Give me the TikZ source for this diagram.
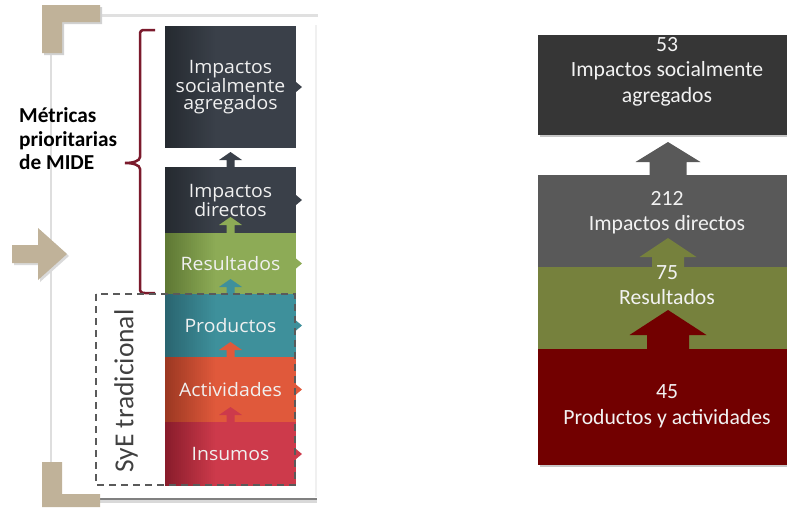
\documentclass[tikz,border=0pt]{standalone}
\usepackage{fontspec}
\setmainfont{Carlito}
\newfontfamily\boxfont[FakeStretch=1.05]{Open Sans}
\usetikzlibrary{calc}
\definecolor{tanc}{HTML}{C0B299}
\definecolor{darkbox}{HTML}{3A4049}\definecolor{darkboxL}{HTML}{252A30}
\definecolor{greenbox}{HTML}{8DAB56}\definecolor{greenboxL}{HTML}{5E7834}
\definecolor{tealbox}{HTML}{3E909B}\definecolor{tealboxL}{HTML}{2A6570}
\definecolor{orangebox}{HTML}{E0593B}\definecolor{orangeboxL}{HTML}{9C3822}
\definecolor{redbox}{HTML}{CD3A4B}\definecolor{redboxL}{HTML}{891C2B}
\definecolor{brack}{HTML}{7B1A2C}
\definecolor{dashc}{HTML}{5A5A5A}
\definecolor{rA}{HTML}{363636}\definecolor{rB}{HTML}{595959}
\definecolor{rC}{HTML}{76813D}\definecolor{rD}{HTML}{720000}
\newcommand{\blkarrow}[6]{% colour, base point, head half width, head height, shaft half width, total height
  \begin{scope}[shift={(#2)}]
    \fill[#1] (-#5,0) -- (-#5,{-(#6-#4)}) -- (-#3,{-(#6-#4)}) -- (0,-#6) -- (#3,{-(#6-#4)}) -- (#5,{-(#6-#4)}) -- (#5,0) -- cycle;
  \end{scope}}
\newcommand{\sidetri}[2]{\fill[#1] ($(#2.east)+(0,-5)$) -- ($(#2.east)+(6,0)$) -- ($(#2.east)+(0,5)$) -- cycle;}
\tikzset{
  lbox/.style={fill=#1, draw=none, inner sep=0pt, outer sep=0pt, minimum width=131pt,
    text=white!94!black, font=\boxfont\fontsize{18.5}{19}\selectfont, align=center,
    path picture={\foreach \i [evaluate=\i as \p using int(4*\i)] in {0,...,24}{%
      \fill[color={#1!\p!#1L}] ([xshift=\i*2pt]path picture bounding box.south west) rectangle ([xshift=\i*2pt+2.4pt]path picture bounding box.north west);}}},
  rbox/.style={fill=#1, draw=none, inner sep=0pt, outer sep=0pt, minimum width=249pt},
  rtext/.style={text=white!95!black, font=\fontsize{21.7}{25.5}\selectfont, align=center, inner sep=0pt},
  tanshape/.style={fill=tanc},
  brk/.style={draw=brack, line width=2.5pt},
  dashbox/.style={draw=dashc, line width=2.5pt, dash pattern=on 7pt off 5pt},
}
\begin{document}
\begin{tikzpicture}[x=1pt,y=-1pt]
\useasboundingbox (0,0) rectangle (787,507);
% frame of left panel
\draw[draw=black!12, line width=3pt] (100,15) -- (318,15);
\draw[draw=black!6, line width=1.2pt] (316,25) -- (316,497);
\draw[draw=black!13, line width=1.5pt] (51,53) -- (51,462);
\draw[draw=black!15, line width=3pt] (100,501) -- (317,501);
\draw[draw=black!50, line width=1.5pt] (100,499) -- (317,499);
% tan corners and arrow
\fill[black!18] (44,7) -- (102,7) -- (102,24) -- (64,24) -- (64,55) -- (44,55) -- cycle;
\fill[tanshape] (42,5) -- (100,5) -- (100,22) -- (62,22) -- (62,53) -- (42,53) -- cycle;
\fill[tanshape] (42,462) -- (62,462) -- (62,494) -- (100,494) -- (100,507) -- (42,507) -- cycle;
\fill[black!15] (14,247) -- (40,247) -- (40,230) -- (69,256) -- (40,282) -- (40,265) -- (14,265) -- cycle;
\fill[tanshape] (12,245) -- (38,245) -- (38,228) -- (67,254) -- (38,280) -- (38,263) -- (12,263) -- cycle;
% left boxes
\node[lbox=darkbox, minimum height=122pt, font=\boxfont\fontsize{18.5}{16.7}\selectfont] (b1) at (230.5,87) {Impactos\\socialmente\\agregados};
\node[lbox=darkbox, minimum height=66pt] (b2) at (230.5,200) {Impactos\\directos};
\node[lbox=greenbox, minimum height=61pt] (b3) at (230.5,263.5) {Resultados};
\node[lbox=tealbox, minimum height=63pt] (b4) at (230.5,325.5) {Productos};
\node[lbox=orangebox, minimum height=65pt] (b5) at (230.5,389.5) {Actividades};
\node[lbox=redbox, minimum height=64pt] (b6) at (230.5,454) {Insumos};
\sidetri{darkbox}{b1}
\sidetri{darkbox}{b2}
\sidetri{greenbox}{b3}
\sidetri{tealbox}{b4}
\sidetri{orangebox}{b5}
\sidetri{redbox}{b6}
\blkarrow{darkbox}{b2.north}{11.5}{8}{4}{15}
\blkarrow{greenbox}{b3.north}{11.5}{8}{4}{16}
\blkarrow{tealbox}{b4.north}{11.5}{8}{4}{15}
\blkarrow{orangebox}{b5.north}{11.5}{8}{4}{15}
\blkarrow{redbox}{b6.north}{11.5}{8}{4}{15}
% bracket and label
\draw[brk] (155,30) -- (145,30) .. controls (141,30) and (140,31) .. (140,35) -- (140,157)
  .. controls (140,161) and (133,163) .. (125,163) .. controls (133,163) and (140,165) .. (140,169)
  -- (140,288) .. controls (140,292) and (141,293) .. (145,293) -- (155,293);
\node[anchor=west, align=left, inner sep=0pt, font=\bfseries\fontsize{21.3}{23.5}\selectfont] (mide) at (19,139) {Métricas\\prioritarias\\de MIDE};
% dashed box
\draw[dashbox] (96,294) rectangle (295,485);
\node[rotate=90, inner sep=0pt, text=black!75, font=\fontsize{27.5}{30}\selectfont] (sye) at (126,391) {SyE tradicional};
% right panel
\fill[black!22] (540,37) rectangle (787,137);
\fill[black!22] (540,177) rectangle (787,467);
\node[rbox=rA, minimum height=100pt] (ra) at (662.5,85) {};
\node[rbox=rB, minimum height=92pt] (rb) at (662.5,221) {};
\node[rbox=rC, minimum height=82pt] (rc) at (662.5,308) {};
\node[rbox=rD, minimum height=116pt] (rd) at (662.5,407) {};
\blkarrow{rB}{$(rb.north)+(5.5,0)$}{32.5}{20}{18.5}{33}
\blkarrow{rC}{$(rc.north)+(5.5,0)$}{28.5}{19}{16}{29}
\blkarrow{rD}{$(rd.north)+(5.5,0)$}{38.5}{25}{21}{39}
\node[rtext] (ta) at (667,71.5) {53\\Impactos socialmente\\agregados};
\node[rtext] (tb) at (667,212.5) {212\\Impactos directos};
\node[rtext] (tc) at (667,285) {75\\Resultados};
\node[rtext] (td) at (667,406.5) {45\\Productos y actividades};
\end{tikzpicture}
\end{document}
